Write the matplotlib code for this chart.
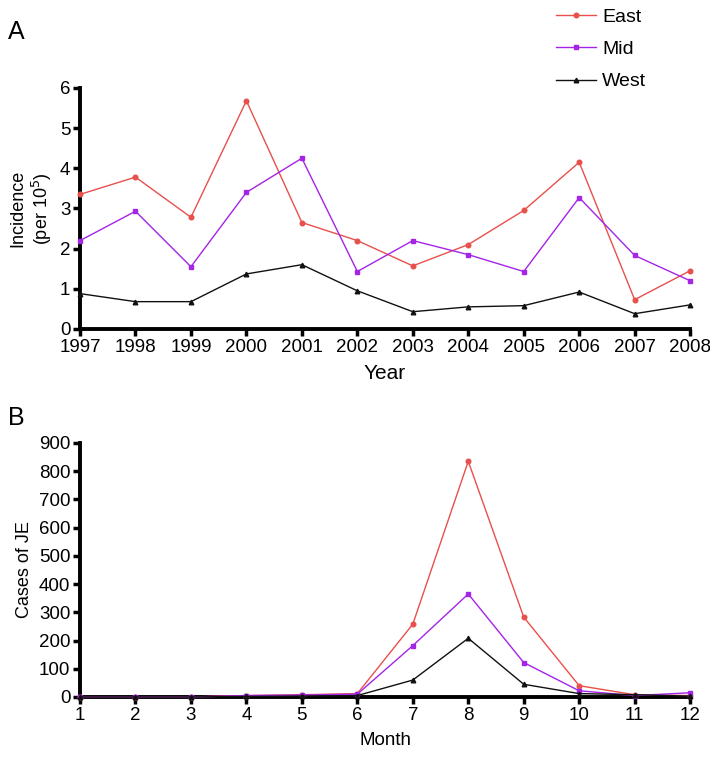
import matplotlib
matplotlib.use("Agg")
import matplotlib.pyplot as plt

years = [1997, 1998, 1999, 2000, 2001, 2002, 2003, 2004, 2005, 2006, 2007, 2008]
east_year = [3.35, 3.78, 2.78, 5.68, 2.65, 2.20, 1.57, 2.10, 2.95, 4.15, 0.73, 1.45]
mid_year = [2.20, 2.93, 1.55, 3.40, 4.25, 1.43, 2.20, 1.85, 1.43, 3.27, 1.83, 1.20]
west_year = [0.88, 0.68, 0.68, 1.37, 1.60, 0.95, 0.43, 0.55, 0.58, 0.92, 0.38, 0.60]

months = [1, 2, 3, 4, 5, 6, 7, 8, 9, 10, 11, 12]
east_month = [0, 0, 0, 5, 8, 12, 258, 835, 283, 40, 8, 5]
mid_month = [0, 0, 0, 5, 7, 10, 182, 365, 122, 22, 5, 15]
west_month = [0, 0, 0, 2, 3, 5, 60, 208, 45, 12, 8, 3]

plt.rcParams['font.family'] = ['Liberation Sans', 'DejaVu Sans']

c_east = '#e8504c'
c_mid = '#a424e8'
c_west = '#111111'

fig = plt.figure(figsize=(7.1, 7.58), dpi=100)
ax1 = fig.add_axes([0.1127, 0.566, 0.8593, 0.318])
ax2 = fig.add_axes([0.1127, 0.0805, 0.8593, 0.3351])

def style(ax):
    for s in ['top', 'right']:
        ax.spines[s].set_visible(False)
    for s in ['left', 'bottom']:
        ax.spines[s].set_linewidth(2.8)
    ax.tick_params(direction='out', width=2.5, length=5, labelsize=13.5, pad=2)

kw = dict(lw=1.0, ms=3.3, clip_on=False, zorder=3)
ax1.plot(years, east_year, color=c_east, marker='o', label='East', **kw)
ax1.plot(years, mid_year, color=c_mid, marker='s', label='Mid', **kw)
ax1.plot(years, west_year, color=c_west, marker='^', label='West', **kw)
ax1.set_xlim(1997, 2008)
ax1.set_ylim(0, 6)
ax1.set_xticks(years)
ax1.set_yticks([0, 1, 2, 3, 4, 5, 6])
style(ax1)
ax1.set_xlabel('Year', fontsize=15, labelpad=6)
ax1.set_ylabel('Incidence\n(per 10$^5$)', fontsize=13, labelpad=4, linespacing=1.2)

ax2.plot(months, east_month, color=c_east, marker='o', **kw)
ax2.plot(months, mid_month, color=c_mid, marker='s', **kw)
ax2.plot(months, west_month, color=c_west, marker='^', **kw)
ax2.set_xlim(1, 12)
ax2.set_ylim(0, 900)
ax2.set_xticks(months)
ax2.set_yticks(range(0, 901, 100))
style(ax2)
ax2.set_xlabel('Month', fontsize=13.5, labelpad=6)
ax2.set_ylabel('Cases of JE', fontsize=13, labelpad=4)

fig.text(0.011, 0.958, 'A', fontsize=18, va='center', ha='left')
fig.text(0.011, 0.448, 'B', fontsize=18, va='center', ha='left')

handles, labels = ax1.get_legend_handles_labels()
fig.legend(handles, labels, loc='upper left', bbox_to_anchor=(0.759, 1.012),
           frameon=False, fontsize=14, labelspacing=0.75, handlelength=2.05,
           handletextpad=0.3)

fig.savefig('out.png', dpi=100)
